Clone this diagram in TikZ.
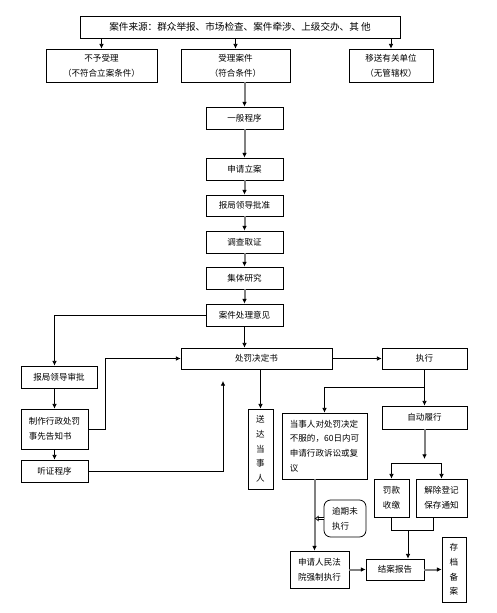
\documentclass[tikz,border=0pt]{standalone}
\usepackage{fontspec}
\setmainfont{Noto Sans CJK SC}
\usetikzlibrary{arrows.meta}
\definecolor{LineGray}{RGB}{128,128,128}
\tikzset{
  block/.style  = {draw, line width=0.6pt, inner sep=1pt, align=center,
                   font=\fontsize{6.4}{11}\selectfont},
  lblock/.style = {block, align=left},
  rblock/.style = {lblock, rounded corners=5pt},
  wh/.style 2 args = {minimum width=#1*0.75pt, minimum height=#2*0.75pt},
  arr/.style    = {-{Latex[length=3.5pt,width=3.5pt]}, line width=0.6pt},
  arrg/.style   = {-{Latex[length=3.5pt,width=3.5pt,color=black]}, LineGray, line width=1.5pt},
  hollow/.style = {-{Latex[open,length=3pt,width=4.5pt]}, double, double distance=1.2pt, line width=0.5pt}
}

\begin{document}
\begin{tikzpicture}[x=0.75pt, y=-0.75pt]
\useasboundingbox (0,0) rectangle (496,613);
% case sources
\node[block, wh={320}{22}, font=\fontsize{7.2}{9}\selectfont]
    (src) at (240,27) {案件来源：群众举报、市场检查、案件牵涉、上级交办、其\ 他};
\node[block, wh={111}{33}] (rej)   at (101.5,65.5) {不予受理\\（不符合立案条件）};
\node[block, wh={109}{33}] (acc)   at (235.5,65.5) {受理案件\\（符合条件）};
\node[block, wh={84}{33}]  (trans) at (391,65.5)   {移送有关单位\\（无管辖权）};
% general procedure
\node[block, wh={77}{22}] (gen)   at (244.5,118)   {一般程序};
\node[block, wh={77}{22}] (apply) at (244.5,169)   {申请立案};
\node[block, wh={77}{21}] (appr)  at (244.5,205.5) {报局领导批准};
\node[block, wh={77}{22}] (inv)   at (244.5,242)   {调查取证};
\node[block, wh={77}{22}] (disc)  at (244.5,278)   {集体研究};
\node[block, wh={77}{22}] (opin)  at (244.5,315)   {案件处理意见};
\node[block, wh={151}{21}] (dec)  at (256.5,358.5) {处罚决定书};
\node[block, wh={85}{21}]  (exe)  at (424.5,358.5) {执行};
% left branch
\node[block, wh={76}{22}]  (rep)    at (59,377)    {报局领导审批};
\node[lblock, wh={67}{40}] (notice) at (54.5,429)  {制作行政处罚\\事先告知书};
\node[block, wh={67}{22}]  (hear)   at (54.5,471)  {听证程序};
% right branch
\node[block, wh={25}{80}]  (serve)  at (260.5,449) {送\\达\\当\\事\\人};
\node[lblock, wh={85}{66}] (appeal) at (324.5,446) {当事人对处罚决定\\不服的，60日内可\\申请行政诉讼或复\\议};
\node[block, wh={85}{23}]  (auto)   at (424.5,417.5) {自动履行};
\node[block, wh={35}{38}]  (fine)   at (391.5,498) {罚款\\收缴};
\node[block, wh={51}{38}]  (lift)   at (441.5,498) {解除登记\\保存通知};
\node[rblock, wh={42}{37}] (overdue) at (345,518.5) {逾期未\\执行};
\node[lblock, wh={59}{37}] (court)  at (319.5,569.5) {申请人民法\\院强制执行};
\node[block, wh={58}{21}]  (close)  at (395,569.5)  {结案报告};
\node[block, wh={24}{65}]  (arch)   at (454,569.5)  {存\\档\\备\\案};

\draw[arr] (src.south -| rej) -- (rej.north);
\draw[arr] (src.south -| acc) -- (acc.north);
\draw[arr] (src.south -| trans) -- (trans.north);
\draw[arrg] (acc.south -| gen) -- (gen.north);
\draw[arrg] (gen) -- (apply);
\draw[arrg] (apply) -- (appr);
\draw[arrg] (appr) -- (inv);
\draw[arrg] (inv) -- (disc);
\draw[arrg] (disc) -- (opin);
\draw[arr] (opin) -- (opin |- dec.north);
% to the left
\draw[arr] (opin.west) -| (rep.north -| notice);
\draw[arr] (rep.south -| notice) -- (notice.north);
\draw[arr] (notice) -- (hear);
\draw[arr] (notice.east) -- ++(17,0) |- (dec.west);
\coordinate (hearup) at (223,381);
\draw[arr] (hear.east) -| (hearup);
% to the right
\draw[arr] (dec) -- (exe);
\draw[arr] (dec.south -| serve) -- (serve.north);
\draw (exe.south) -- ++(0,18) coordinate (split);
\draw[arr] (split) -| (appeal.north);
\draw[arr] (split) -- (auto.north);
\coordinate (autoend) at (424.5,459);
\draw[arrg] (auto.south) -- (autoend);
\draw[{Latex[length=3.5pt,width=3.5pt]}-{Latex[length=3.5pt,width=3.5pt]}, line width=0.6pt]
    (fine.north) -- ++(0,-15) -| (lift.north);
\draw[line width=0.6pt] (fine.south) -- ++(0,13) -| ([xshift=-6.4pt]lift.south);
\coordinate (join) at (408,530);
\draw[arr] (join) -- (join |- close.north);
\coordinate (vline) at ([xshift=-7.5pt]appeal.south);
\draw[arrg] (vline) -- (vline |- court.north);
\draw[hollow] (overdue.west) -- (overdue.west -| vline);
\draw[arrg] (court) -- (close);
\draw[arrg] (close) -- (arch);
\end{tikzpicture}
\end{document}
